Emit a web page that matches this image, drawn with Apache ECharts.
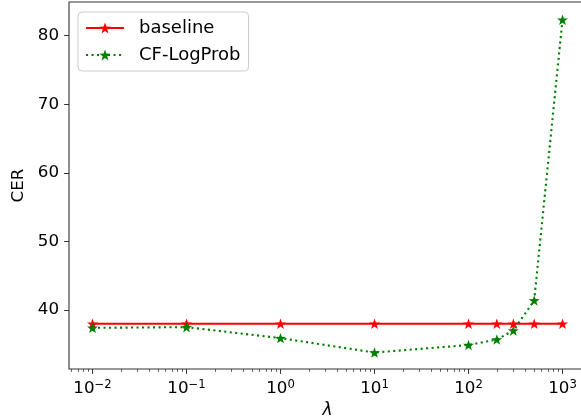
<!DOCTYPE html>
<html>
<head>
<meta charset="utf-8">
<script src="https://cdn.jsdelivr.net/npm/echarts@6/dist/echarts.min.js"></script>
<style>html,body{margin:0;padding:0;background:#fff}#c{width:581px;height:418px}</style>
</head>
<body>
<div id="c"></div>
<script>
const lambdas = [0.01, 0.1, 1, 10, 100, 200, 300, 500, 1000];
const baseline = [38, 38, 38, 38, 38, 38, 38, 38, 38];
const cfLogProb = [37.4, 37.5, 35.9, 33.8, 34.9, 35.7, 37.0, 41.4, 82.3];
const xMajorTicks = [0.01, 0.1, 1, 10, 100, 1000];
const xTickExponents = ['−2', '−1', '0', '1', '2', '3'];
const xMinorTicks = [];
[0.001, 0.01, 0.1, 1, 10, 100, 1000].forEach(d => { for (let k = 2; k <= 9; k++) xMinorTicks.push(+(d * k).toPrecision(3)); });
const yTicks = [40, 50, 60, 70, 80];

const FONT = 'DejaVu Sans';
const STAR = 'path://M0,-10 L2.35,-3.24 L9.51,-3.09 L3.80,1.24 L5.88,8.09 L0,4 L-5.88,8.09 L-3.80,1.24 L-9.51,-3.09 L-2.35,-3.24 Z';
const xmin = Math.pow(10, -2.25), xmax = Math.pow(10, 3.25);

const chart = echarts.init(document.getElementById('c'), null, {renderer: 'canvas'});
chart.setOption({
  animation: false,
  backgroundColor: '#fff',
  grid: {left: 69, top: 2, width: 517, height: 367, outerBoundsMode: 'none', containLabel: false,
         show: true, borderColor: '#333', borderWidth: 1.1, backgroundColor: 'transparent'},
  legend: {
    orient: 'vertical', left: 78, top: 12,
    padding: [5, 8, 5, 7],
    backgroundColor: 'rgba(255,255,255,0.8)', borderColor: '#ccc', borderWidth: 1, borderRadius: 4,
    itemWidth: 38, itemHeight: 14, itemGap: 5,
    textStyle: {fontFamily: FONT, fontSize: 18, color: '#000', lineHeight: 22, padding: [0, 0, 0, 10]},
    data: ['baseline', 'CF-LogProb']
  },
  xAxis: [{
    type: 'log', min: xmin, max: xmax, logBase: 10,
    name: 'λ', nameLocation: 'middle', nameGap: 30,
    nameTextStyle: {fontFamily: FONT, fontSize: 17, fontStyle: 'italic', color: '#000'},
    axisLine: {show: false},
    splitLine: {show: false},
    axisTick: {show: true, length: 4.9, lineStyle: {color: '#333', width: 1}, customValues: xMajorTicks},
    axisLabel: {
      margin: 10, customValues: xMajorTicks,
      formatter: function (v) { const i = xMajorTicks.findIndex(t => Math.abs(t - v) / t < 1e-6); return '{b|10}{s|' + (i >= 0 ? xTickExponents[i] : '') + '}'; },
      rich: {
        b: {fontFamily: FONT, fontSize: 16.7, color: '#000', lineHeight: 18, verticalAlign: 'bottom'},
        s: {fontFamily: FONT, fontSize: 11.7, color: '#000', lineHeight: 18, verticalAlign: 'top'}
      }
    }
  }, {
    type: 'log', min: xmin, max: xmax, logBase: 10, position: 'bottom',
    axisLine: {show: false}, splitLine: {show: false}, axisLabel: {show: false},
    axisTick: {show: true, length: 2.8, lineStyle: {color: '#333', width: 0.8}, customValues: xMinorTicks}
  }],
  yAxis: {
    type: 'value', min: 31.4, max: 84.9,
    name: 'CER', nameLocation: 'middle', nameGap: 38, nameRotate: 90,
    nameTextStyle: {fontFamily: FONT, fontSize: 16.7, color: '#000'},
    axisLine: {show: false}, splitLine: {show: false},
    axisTick: {show: true, length: 4.9, lineStyle: {color: '#333', width: 1}, customValues: yTicks},
    axisLabel: {margin: 10, fontFamily: FONT, fontSize: 16.7, color: '#000', customValues: yTicks}
  },
  series: [{
    name: 'baseline', type: 'line',
    data: lambdas.map((x, i) => [x, baseline[i]]),
    symbol: STAR, symbolSize: 11, symbolKeepAspect: true,
    lineStyle: {color: '#ff0000', width: 2.1},
    itemStyle: {color: '#ff0000'}
  }, {
    name: 'CF-LogProb', type: 'line',
    data: lambdas.map((x, i) => [x, cfLogProb[i]]),
    symbol: STAR, symbolSize: 11, symbolKeepAspect: true,
    lineStyle: {color: '#008000', width: 2.1, type: [2.1, 3.4], cap: 'butt'},
    itemStyle: {color: '#008000'}
  }]
});
</script>
</body>
</html>
